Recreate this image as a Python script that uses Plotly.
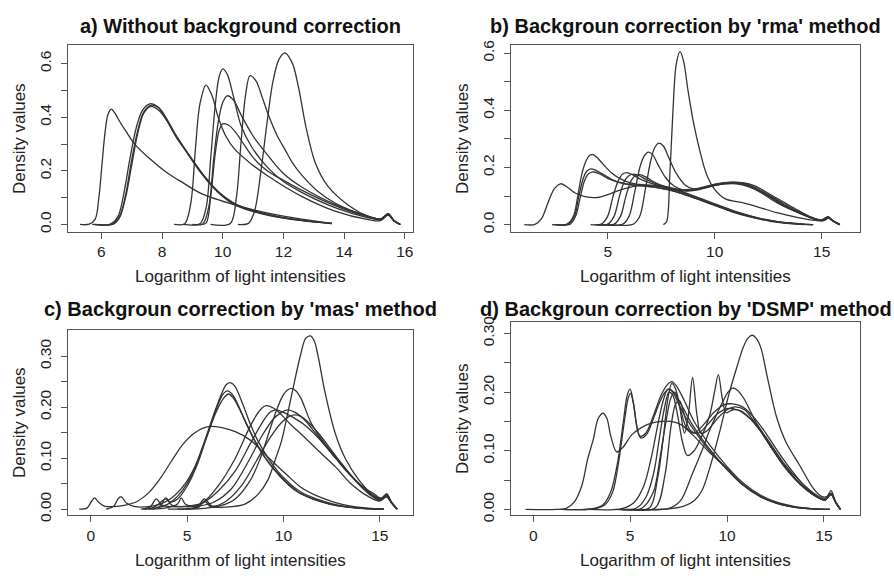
import plotly.graph_objects as go

# ---------------- Panel a: Without background correction ----------------
A1_X = [5.3, 5.6, 5.8, 5.92, 6.02, 6.12, 6.22, 6.33, 6.45, 6.6, 6.8, 7.1, 7.6, 8.2, 8.7, 9.3, 10.4, 11.5, 12.6, 13.6]
A1_Y = [0, 0.001, 0.02, 0.1, 0.22, 0.34, 0.41, 0.43, 0.415, 0.385, 0.35, 0.30, 0.245, 0.19, 0.155, 0.115, 0.073, 0.042, 0.02, 0.004]
A2_X = [5.7, 6.3, 6.55, 6.75, 6.95, 7.15, 7.35, 7.6, 7.85, 8.1, 8.4, 8.75, 9.3, 9.85, 10.4, 11.5, 12.6, 13.6]
A2_Y = [0, 0.001, 0.03, 0.12, 0.25, 0.36, 0.425, 0.45, 0.44, 0.40, 0.34, 0.28, 0.19, 0.12, 0.075, 0.036, 0.015, 0.003]
A3_X = [5.75, 6.35, 6.6, 6.8, 7.0, 7.2, 7.4, 7.65, 7.9, 8.15, 8.45, 8.8, 9.35, 9.9, 10.45, 11.5, 12.6, 13.6]
A3_Y = [0, 0.001, 0.03, 0.11, 0.24, 0.35, 0.42, 0.445, 0.435, 0.395, 0.335, 0.275, 0.185, 0.115, 0.07, 0.034, 0.014, 0.003]
A4_X = [5.8, 6.4, 6.6, 6.8, 7.0, 7.2, 7.4, 7.62, 7.9, 8.2, 8.5, 8.85, 9.4, 9.9, 10.5, 11.5, 12.6, 13.6]
A4_Y = [0, 0.001, 0.025, 0.1, 0.22, 0.34, 0.415, 0.44, 0.425, 0.38, 0.32, 0.265, 0.18, 0.118, 0.072, 0.038, 0.016, 0.004]
A5_X = [8.4, 8.75, 8.95, 9.1, 9.25, 9.45, 9.65, 9.85, 10.1, 10.4, 10.95, 11.5, 12.6, 13.7, 14.8, 15.2, 15.45, 15.65, 15.85]
A5_Y = [0, 0.003, 0.08, 0.28, 0.45, 0.52, 0.48, 0.40, 0.33, 0.28, 0.225, 0.18, 0.105, 0.05, 0.018, 0.014, 0.035, 0.012, 0]
A6_X = [8.7, 9.25, 9.45, 9.6, 9.75, 9.88, 10.0, 10.15, 10.35, 10.6, 10.95, 11.5, 12.0, 12.6, 13.7, 14.8, 15.2, 15.45, 15.65, 15.85]
A6_Y = [0, 0.003, 0.06, 0.24, 0.44, 0.55, 0.58, 0.56, 0.48, 0.37, 0.29, 0.21, 0.16, 0.12, 0.063, 0.025, 0.018, 0.038, 0.014, 0]
A7_X = [9.0, 9.35, 9.55, 9.7, 9.85, 10.0, 10.15, 10.35, 10.6, 11.0, 11.4, 12.0, 12.6, 13.7, 14.8, 15.2, 15.45, 15.65, 15.85]
A7_Y = [0, 0.003, 0.07, 0.24, 0.38, 0.455, 0.48, 0.465, 0.41, 0.33, 0.27, 0.19, 0.14, 0.075, 0.03, 0.02, 0.04, 0.014, 0]
A8_X = [9.2, 9.45, 9.6, 9.75, 9.88, 10.0, 10.2, 10.45, 10.75, 11.0, 11.3, 11.6, 12.0, 12.6, 13.7, 14.8, 15.2, 15.45, 15.65, 15.85]
A8_Y = [0, 0.005, 0.1, 0.26, 0.35, 0.375, 0.37, 0.34, 0.29, 0.25, 0.215, 0.19, 0.165, 0.128, 0.07, 0.028, 0.02, 0.036, 0.013, 0]
A9_X = [9.6, 10.25, 10.45, 10.6, 10.75, 10.9, 11.1, 11.3, 11.5, 11.8, 12.05, 12.3, 12.6, 13.1, 13.7, 14.8, 15.2, 15.45, 15.65, 15.85]
A9_Y = [0, 0.004, 0.1, 0.3, 0.48, 0.555, 0.535, 0.475, 0.41, 0.33, 0.28, 0.23, 0.185, 0.127, 0.08, 0.03, 0.02, 0.036, 0.013, 0]
A10_X = [10.5, 10.85, 11.05, 11.25, 11.45, 11.65, 11.85, 12.05, 12.3, 12.5, 12.75, 13.05, 13.45, 14.2, 14.8, 15.2, 15.45, 15.65, 15.85]
A10_Y = [0, 0.004, 0.05, 0.19, 0.37, 0.53, 0.615, 0.64, 0.60, 0.51, 0.36, 0.23, 0.145, 0.067, 0.03, 0.02, 0.04, 0.014, 0]

# ---------------- Panel b: 'rma' ----------------
B1_X = [1.1, 1.6, 1.9, 2.2, 2.5, 2.8, 3.1, 3.5, 4.0, 4.5, 5.0, 5.6, 6.3, 7.0, 7.6, 8.5, 9.4, 10.3, 11.2, 12.1, 13.0, 14.0, 14.6]
B1_Y = [0, 0.001, 0.02, 0.075, 0.125, 0.143, 0.132, 0.11, 0.097, 0.095, 0.105, 0.122, 0.135, 0.138, 0.132, 0.115, 0.09, 0.065, 0.04, 0.022, 0.01, 0.003, 0]
B2_X = [2.4, 3.1, 3.4, 3.6, 3.8, 4.0, 4.15, 4.3, 4.5, 4.8, 5.2, 5.6, 6.1, 6.8, 7.5, 8.5, 9.4, 10.3, 11.2, 12.1, 13.0, 14.0, 14.6]
B2_Y = [0, 0.002, 0.03, 0.1, 0.18, 0.225, 0.242, 0.245, 0.235, 0.21, 0.18, 0.16, 0.145, 0.138, 0.132, 0.112, 0.088, 0.062, 0.04, 0.022, 0.01, 0.003, 0]
B3_X = [2.5, 3.15, 3.45, 3.65, 3.85, 4.0, 4.2, 4.45, 4.8, 5.2, 5.7, 6.3, 7.0, 7.7, 8.5, 9.4, 10.3, 11.2, 12.1, 13.0, 14.0, 14.6]
B3_Y = [0, 0.002, 0.03, 0.1, 0.16, 0.185, 0.195, 0.19, 0.175, 0.158, 0.145, 0.138, 0.133, 0.125, 0.108, 0.085, 0.06, 0.038, 0.02, 0.009, 0.002, 0]
B4_X = [2.6, 3.25, 3.5, 3.7, 3.9, 4.1, 4.3, 4.6, 5.0, 5.5, 6.0, 6.7, 7.4, 8.2, 9.0, 9.9, 10.8, 11.7, 12.6, 13.5, 14.2]
B4_Y = [0, 0.002, 0.03, 0.09, 0.15, 0.178, 0.185, 0.178, 0.162, 0.148, 0.14, 0.135, 0.128, 0.115, 0.095, 0.07, 0.045, 0.026, 0.012, 0.004, 0]
B5_X = [4.2, 4.7, 5.0, 5.25, 5.5, 5.7, 5.9, 6.15, 6.5, 7.0, 7.6, 8.3, 9.0, 9.7, 10.4, 11.0, 11.6, 12.2, 12.9, 13.7, 14.45, 15.0, 15.3, 15.5, 15.85]
B5_Y = [0, 0.002, 0.03, 0.1, 0.155, 0.177, 0.182, 0.175, 0.16, 0.145, 0.132, 0.12, 0.122, 0.133, 0.142, 0.143, 0.132, 0.11, 0.077, 0.048, 0.025, 0.014, 0.024, 0.014, 0]
B6_X = [4.4, 5.0, 5.3, 5.55, 5.8, 6.0, 6.2, 6.45, 6.8, 7.3, 7.9, 8.5, 9.2, 9.9, 10.6, 11.2, 11.8, 12.4, 13.1, 13.9, 14.5, 15.0, 15.3, 15.5, 15.85]
B6_Y = [0, 0.002, 0.03, 0.1, 0.155, 0.172, 0.177, 0.172, 0.158, 0.142, 0.13, 0.122, 0.127, 0.14, 0.148, 0.145, 0.13, 0.105, 0.072, 0.043, 0.024, 0.015, 0.026, 0.015, 0]
B7_X = [4.5, 5.3, 5.6, 5.85, 6.1, 6.3, 6.5, 6.75, 7.1, 7.6, 8.2, 8.8, 9.5, 10.2, 10.8, 11.4, 12.0, 12.6, 13.3, 14.0, 14.6, 15.0, 15.3, 15.5, 15.85]
B7_Y = [0, 0.002, 0.03, 0.1, 0.155, 0.172, 0.175, 0.168, 0.152, 0.135, 0.122, 0.118, 0.128, 0.14, 0.145, 0.14, 0.122, 0.098, 0.067, 0.04, 0.022, 0.015, 0.025, 0.014, 0]
B8_X = [4.6, 5.7, 6.0, 6.25, 6.5, 6.7, 6.9, 7.1, 7.35, 7.7, 8.1, 8.6, 9.2, 9.9, 10.6, 11.3, 11.9, 12.5, 13.2, 13.9, 14.5, 15.0, 15.3, 15.5, 15.85]
B8_Y = [0, 0.002, 0.03, 0.11, 0.2, 0.24, 0.254, 0.245, 0.21, 0.165, 0.135, 0.12, 0.122, 0.138, 0.147, 0.145, 0.13, 0.105, 0.075, 0.046, 0.025, 0.016, 0.027, 0.015, 0]
B9_X = [5.0, 6.2, 6.5, 6.75, 7.0, 7.2, 7.4, 7.6, 7.85, 8.2, 8.6, 9.0, 9.5, 10.1, 10.7, 11.3, 11.9, 12.5, 13.2, 13.9, 14.5, 15.0, 15.3, 15.5, 15.85]
B9_Y = [0, 0.002, 0.03, 0.12, 0.22, 0.27, 0.285, 0.275, 0.235, 0.18, 0.14, 0.125, 0.128, 0.14, 0.148, 0.147, 0.135, 0.11, 0.08, 0.05, 0.027, 0.017, 0.028, 0.015, 0]
B10_X = [7.6, 7.75, 7.9, 8.05, 8.2, 8.38, 8.55, 8.75, 9.0, 9.3, 9.6, 9.95, 10.5, 11.3, 12.1, 12.9, 13.9, 14.7, 15.1, 15.35, 15.55, 15.85]
B10_Y = [0, 0.01, 0.17, 0.4, 0.56, 0.605, 0.57, 0.47, 0.36, 0.26, 0.18, 0.128, 0.09, 0.077, 0.06, 0.042, 0.025, 0.015, 0.014, 0.024, 0.012, 0]

# ---------------- Panel c: 'mas' ----------------
C1_X = [-0.6, -0.2, 0.05, 0.2, 0.4, 0.7, 1.2, 1.8, 2.4, 3.0, 3.6, 4.2, 4.8, 5.4, 6.1, 6.8, 7.5, 8.3, 9.2, 10.1, 10.9, 11.8, 12.7, 13.5, 14.4, 15.2]
C1_Y = [0, 0.002, 0.016, 0.022, 0.014, 0.006, 0.005, 0.008, 0.015, 0.032, 0.06, 0.095, 0.128, 0.15, 0.162, 0.16, 0.152, 0.135, 0.102, 0.07, 0.043, 0.025, 0.013, 0.006, 0.002, 0]
C2_X = [0.8, 1.2, 1.45, 1.6, 1.85, 2.3, 3.0, 3.6, 4.2, 4.9, 5.4, 5.9, 6.4, 6.85, 7.05, 7.27, 7.5, 7.9, 8.3, 8.7, 9.3, 10.0, 10.8, 11.7, 12.6, 13.5, 14.4, 15.2]
C2_Y = [0, 0.006, 0.022, 0.024, 0.012, 0.005, 0.005, 0.01, 0.022, 0.05, 0.083, 0.133, 0.188, 0.232, 0.245, 0.248, 0.24, 0.205, 0.165, 0.132, 0.095, 0.062, 0.036, 0.02, 0.01, 0.004, 0.001, 0]
C3_X = [2.6, 3.3, 3.7, 3.9, 4.1, 4.5, 5.0, 5.5, 6.0, 6.5, 6.85, 7.1, 7.35, 7.7, 8.1, 8.5, 9.1, 9.8, 10.6, 11.5, 12.4, 13.3, 14.2, 15.2]
C3_Y = [0, 0.004, 0.016, 0.02, 0.014, 0.02, 0.045, 0.085, 0.14, 0.195, 0.225, 0.232, 0.225, 0.2, 0.165, 0.135, 0.098, 0.065, 0.037, 0.02, 0.01, 0.004, 0.001, 0]
C4_X = [2.8, 3.5, 4.0, 4.5, 5.0, 5.5, 6.0, 6.5, 6.9, 7.15, 7.4, 7.8, 8.2, 8.6, 9.2, 9.9, 10.7, 11.6, 12.5, 13.4, 14.3, 15.2]
C4_Y = [0, 0.003, 0.01, 0.025, 0.05, 0.088, 0.14, 0.19, 0.218, 0.226, 0.218, 0.19, 0.158, 0.128, 0.093, 0.062, 0.035, 0.019, 0.009, 0.004, 0.001, 0]
C5_X = [3.0, 4.0, 4.5, 4.7, 4.9, 5.3, 5.8, 6.6, 7.5, 8.3, 8.8, 9.1, 9.5, 9.9, 10.4, 10.9, 11.8, 12.7, 13.5, 14.4, 15.0, 15.35, 15.6, 15.9]
C5_Y = [0, 0.003, 0.01, 0.022, 0.01, 0.006, 0.012, 0.045, 0.1, 0.165, 0.195, 0.203, 0.198, 0.185, 0.165, 0.148, 0.115, 0.083, 0.05, 0.025, 0.016, 0.024, 0.012, 0]
C6_X = [2.7, 3.1, 3.4, 3.7, 4.2, 5.0, 5.8, 6.6, 7.5, 8.3, 8.9, 9.3, 9.6, 10.0, 10.5, 11.0, 11.8, 12.7, 13.5, 14.4, 15.0, 15.35, 15.6, 15.9]
C6_Y = [0, 0.005, 0.02, 0.008, 0.005, 0.006, 0.012, 0.035, 0.075, 0.13, 0.17, 0.19, 0.195, 0.19, 0.18, 0.168, 0.14, 0.1, 0.065, 0.035, 0.02, 0.028, 0.014, 0]
C7_X = [3.2, 3.6, 3.9, 4.2, 4.8, 5.6, 6.4, 7.3, 8.2, 8.9, 9.5, 9.9, 10.2, 10.6, 11.1, 11.6, 12.3, 13.0, 13.8, 14.5, 15.0, 15.35, 15.6, 15.9]
C7_Y = [0, 0.006, 0.022, 0.008, 0.005, 0.006, 0.014, 0.04, 0.095, 0.145, 0.178, 0.19, 0.195, 0.19, 0.175, 0.152, 0.12, 0.088, 0.055, 0.03, 0.018, 0.025, 0.013, 0]
C8_X = [4.5, 5.5, 5.9, 6.3, 7.0, 7.8, 8.6, 9.3, 9.9, 10.3, 10.6, 10.9, 11.3, 11.9, 12.6, 13.3, 14.0, 14.6, 15.0, 15.35, 15.6, 15.9]
C8_Y = [0, 0.004, 0.02, 0.006, 0.015, 0.045, 0.095, 0.14, 0.17, 0.182, 0.185, 0.182, 0.17, 0.145, 0.11, 0.075, 0.045, 0.025, 0.018, 0.026, 0.013, 0]
C9_X = [4.0, 6.0, 7.0, 7.5, 8.3, 8.8, 9.2, 9.6, 9.9, 10.15, 10.4, 10.65, 10.9, 11.45, 12.15, 13.0, 13.9, 14.7, 15.1, 15.35, 15.6, 15.9]
C9_Y = [0, 0.002, 0.01, 0.02, 0.058, 0.1, 0.145, 0.19, 0.218, 0.232, 0.237, 0.232, 0.218, 0.168, 0.128, 0.09, 0.05, 0.03, 0.02, 0.03, 0.014, 0]
C10_X = [5.0, 5.6, 5.9, 6.2, 7.0, 8.0, 8.7, 9.2, 9.6, 9.9, 10.4, 10.9, 11.15, 11.4, 11.6, 11.8, 12.15, 12.7, 13.2, 13.9, 14.7, 15.1, 15.35, 15.6, 15.9]
C10_Y = [0, 0.004, 0.016, 0.005, 0.004, 0.01, 0.03, 0.058, 0.1, 0.134, 0.22, 0.305, 0.335, 0.34, 0.33, 0.30, 0.23, 0.147, 0.10, 0.058, 0.026, 0.022, 0.03, 0.014, 0]

# ---------------- Panel d: 'DSMP' ----------------
D1_X = [-0.4, 1.2, 1.7, 2.1, 2.5, 2.8, 3.1, 3.35, 3.6, 3.8, 4.0, 4.3, 4.6, 5.1, 5.6, 6.1, 6.6, 7.1, 7.6, 8.2, 9.1, 10.0, 10.8, 11.7, 12.6, 13.5, 14.4, 15.3]
D1_Y = [0, 0, 0.002, 0.012, 0.04, 0.085, 0.12, 0.155, 0.164, 0.155, 0.125, 0.098, 0.105, 0.128, 0.14, 0.147, 0.15, 0.15, 0.145, 0.128, 0.097, 0.07, 0.043, 0.023, 0.011, 0.004, 0.001, 0]
D2_X = [1.4, 3.0, 3.6, 4.0, 4.35, 4.65, 4.85, 5.0, 5.15, 5.3, 5.5, 5.8, 6.2, 6.6, 6.9, 7.15, 7.4, 7.8, 8.3, 9.1, 10.0, 10.8, 11.7, 12.6, 13.5, 14.5, 15.3]
D2_Y = [0, 0.001, 0.008, 0.03, 0.08, 0.15, 0.195, 0.205, 0.185, 0.15, 0.125, 0.13, 0.16, 0.195, 0.212, 0.218, 0.21, 0.185, 0.15, 0.11, 0.073, 0.046, 0.025, 0.012, 0.005, 0.001, 0]
D3_X = [1.5, 3.1, 3.7, 4.1, 4.4, 4.7, 4.9, 5.02, 5.2, 5.35, 5.55, 5.85, 6.2, 6.55, 6.8, 7.0, 7.3, 7.7, 8.2, 9.0, 9.9, 10.7, 11.6, 12.5, 13.4, 14.4, 15.3]
D3_Y = [0, 0.001, 0.008, 0.03, 0.08, 0.15, 0.19, 0.198, 0.175, 0.14, 0.122, 0.128, 0.155, 0.185, 0.2, 0.205, 0.198, 0.175, 0.145, 0.107, 0.072, 0.045, 0.024, 0.011, 0.004, 0.001, 0]
D4_X = [2.8, 4.5, 5.2, 5.7, 6.1, 6.4, 6.7, 6.95, 7.2, 7.5, 7.9, 8.4, 9.1, 10.0, 10.8, 11.7, 12.6, 13.5, 14.5, 15.3]
D4_Y = [0, 0.001, 0.012, 0.04, 0.09, 0.14, 0.185, 0.205, 0.2, 0.18, 0.155, 0.13, 0.1, 0.068, 0.042, 0.022, 0.01, 0.004, 0.001, 0]
D5_X = [4.5, 7.0, 7.8, 8.3, 8.7, 9.1, 9.6, 10.1, 10.5, 10.85, 11.1, 11.3, 11.5, 11.75, 12.05, 12.55, 13.05, 13.75, 14.45, 14.9, 15.15, 15.37, 15.6, 15.85]
D5_Y = [0, 0.001, 0.006, 0.015, 0.032, 0.07, 0.13, 0.197, 0.242, 0.278, 0.293, 0.297, 0.292, 0.275, 0.23, 0.158, 0.114, 0.075, 0.036, 0.022, 0.022, 0.032, 0.012, 0]
D6_X = [5.5, 7.0, 7.6, 8.2, 8.7, 9.1, 9.5, 9.8, 10.05, 10.3, 10.55, 10.85, 11.2, 11.5, 12.2, 12.9, 13.8, 14.6, 15.05, 15.37, 15.6, 15.85]
D6_Y = [0, 0.002, 0.015, 0.06, 0.1, 0.135, 0.165, 0.185, 0.2, 0.207, 0.203, 0.19, 0.168, 0.148, 0.114, 0.08, 0.047, 0.025, 0.018, 0.026, 0.012, 0]
D7_X = [4.2, 5.3, 5.8, 6.2, 6.5, 6.75, 7.0, 7.2, 7.45, 7.7, 7.95, 8.3, 8.7, 9.1, 9.35, 9.55, 9.75, 9.95, 10.3, 10.7, 11.2, 11.8, 12.5, 13.2, 14.0, 14.6, 15.05, 15.37, 15.6, 15.85]
D7_Y = [0, 0.002, 0.02, 0.06, 0.12, 0.17, 0.2, 0.195, 0.16, 0.115, 0.092, 0.1, 0.125, 0.16, 0.2, 0.23, 0.19, 0.165, 0.17, 0.168, 0.155, 0.13, 0.095, 0.065, 0.037, 0.022, 0.016, 0.028, 0.013, 0]
D8_X = [4.5, 5.6, 6.2, 6.55, 6.85, 7.1, 7.3, 7.55, 7.8, 8.0, 8.22, 8.45, 8.65, 9.0, 9.5, 10.0, 10.4, 10.9, 11.5, 12.2, 12.9, 13.7, 14.5, 15.05, 15.37, 15.6, 15.85]
D8_Y = [0, 0.002, 0.03, 0.09, 0.15, 0.19, 0.2, 0.175, 0.13, 0.16, 0.225, 0.16, 0.13, 0.135, 0.155, 0.17, 0.175, 0.17, 0.145, 0.11, 0.075, 0.045, 0.024, 0.017, 0.027, 0.013, 0]
D9_X = [4.8, 6.0, 6.4, 6.7, 6.95, 7.15, 7.35, 7.6, 7.9, 8.3, 8.8, 9.3, 9.8, 10.3, 10.8, 11.3, 11.9, 12.6, 13.3, 14.0, 14.6, 15.05, 15.37, 15.6, 15.85]
D9_Y = [0, 0.003, 0.05, 0.12, 0.19, 0.215, 0.205, 0.17, 0.14, 0.13, 0.145, 0.165, 0.178, 0.18, 0.175, 0.16, 0.135, 0.1, 0.068, 0.04, 0.023, 0.016, 0.026, 0.013, 0]
D10_X = [5.0, 6.3, 6.8, 7.1, 7.35, 7.55, 7.8, 8.1, 8.5, 9.0, 9.5, 10.0, 10.5, 11.0, 11.6, 12.3, 13.0, 13.8, 14.5, 15.05, 15.37, 15.6, 15.85]
D10_Y = [0, 0.003, 0.06, 0.14, 0.18, 0.185, 0.16, 0.135, 0.13, 0.145, 0.163, 0.172, 0.17, 0.16, 0.14, 0.105, 0.072, 0.042, 0.024, 0.016, 0.025, 0.012, 0]

TITLES = ["a) Without background correction",
          "b) Backgroun correction by 'rma' method",
          "c) Backgroun correction by 'mas' method",
          "d) Backgroun correction by 'DSMP' method"]
XLABEL = "Logarithm of light intensities"
YLABEL = "Density values"

X_TICKS = [[6, 8, 10, 12, 14, 16], [5, 10, 15], [0, 5, 10, 15], [0, 5, 10, 15]]
Y_TICKS_AB = [0.0, 0.1, 0.2, 0.3, 0.4, 0.5, 0.6]
Y_TEXT_AB = ["0.0", "", "0.2", "", "0.4", "", "0.6"]
Y_TICKS_CD = [0.0, 0.05, 0.10, 0.15, 0.20, 0.25, 0.30]
Y_TEXT_CD = ["0.00", "", "0.10", "", "0.20", "", "0.30"]

panels = [
    [(A1_X, A1_Y), (A2_X, A2_Y), (A3_X, A3_Y), (A4_X, A4_Y), (A5_X, A5_Y),
     (A6_X, A6_Y), (A7_X, A7_Y), (A8_X, A8_Y), (A9_X, A9_Y), (A10_X, A10_Y)],
    [(B1_X, B1_Y), (B2_X, B2_Y), (B3_X, B3_Y), (B4_X, B4_Y), (B5_X, B5_Y),
     (B6_X, B6_Y), (B7_X, B7_Y), (B8_X, B8_Y), (B9_X, B9_Y), (B10_X, B10_Y)],
    [(C1_X, C1_Y), (C2_X, C2_Y), (C3_X, C3_Y), (C4_X, C4_Y), (C5_X, C5_Y),
     (C6_X, C6_Y), (C7_X, C7_Y), (C8_X, C8_Y), (C9_X, C9_Y), (C10_X, C10_Y)],
    [(D1_X, D1_Y), (D2_X, D2_Y), (D3_X, D3_Y), (D4_X, D4_Y), (D5_X, D5_Y),
     (D6_X, D6_Y), (D7_X, D7_Y), (D8_X, D8_Y), (D9_X, D9_Y), (D10_X, D10_Y)],
]

W, H = 894, 580
# plot boxes in pixels: (left, right, top, bottom)
boxes = [(68, 413, 40, 231), (511, 860, 40, 231), (68, 413, 331, 521), (511, 860, 323, 521)]
x_ranges = [[4.903, 16.27], [0.48, 16.79], [-1.18, 16.72], [-1.15, 16.86]]
y_ranges = [[-0.0274, 0.669], [-0.025, 0.628], [-0.0121, 0.3524], [-0.0100, 0.32]]

FONT = "Liberation Sans, Arial, sans-serif"
LINE = "#333333"
fig = go.Figure()

layout = dict(width=W, height=H, margin=dict(l=0, r=0, t=0, b=0),
              paper_bgcolor="white", plot_bgcolor="white", showlegend=False,
              font=dict(family=FONT, color="#222222"))
annotations = []
for i, curves in enumerate(panels):
    n = "" if i == 0 else str(i + 1)
    for cx, cy in curves:
        fig.add_trace(go.Scatter(x=cx, y=cy, mode="lines", xaxis="x" + n, yaxis="y" + n,
                                 line=dict(color=LINE, width=1.3, shape="spline", smoothing=0.9),
                                 hoverinfo="skip"))
    l, r, t, b = boxes[i]
    common = dict(showline=True, mirror=True, linecolor="#555555", linewidth=1,
                  showgrid=False, zeroline=False, ticks="outside", ticklen=6,
                  tickcolor="#555555", tickwidth=1, tickfont=dict(size=15.5, family=FONT, color="#222222"))
    yt = Y_TICKS_AB if i < 2 else Y_TICKS_CD
    ytt = Y_TEXT_AB if i < 2 else Y_TEXT_CD
    layout["xaxis" + n] = dict(domain=[l / W, r / W], range=x_ranges[i], anchor="y" + n,
                               tickvals=X_TICKS[i], ticktext=[str(v) for v in X_TICKS[i]],
                               ticklabelstandoff=0, **common)
    layout["yaxis" + n] = dict(domain=[1 - b / H, 1 - t / H], range=y_ranges[i], anchor="x" + n,
                               tickvals=yt, ticktext=ytt, tickangle=-90,
                               ticklabelstandoff=4, **common)
    cxp = (l + r) / 2
    title_y = 20 if i < 2 else 310
    annotations.append(dict(text="<b>" + TITLES[i] + "</b>", x=cxp / W, y=1 - title_y / H,
                            xref="paper", yref="paper", xanchor="center", yanchor="middle",
                            showarrow=False, font=dict(size=20, family=FONT, color="#111111")))
    xl_y = b + 46
    annotations.append(dict(text=XLABEL, x=cxp / W, y=1 - xl_y / H, xref="paper", yref="paper",
                            xanchor="center", yanchor="middle", showarrow=False,
                            font=dict(size=17, family=FONT, color="#222222")))
    yl_x = l - 48.5
    annotations.append(dict(text=YLABEL, x=yl_x / W, y=1 - ((t + b) / 2) / H, xref="paper",
                            yref="paper", xanchor="center", yanchor="middle", textangle=-90,
                            showarrow=False, font=dict(size=17, family=FONT, color="#222222")))

layout["annotations"] = annotations
fig.update_layout(**layout)
fig.write_html("out.html")
